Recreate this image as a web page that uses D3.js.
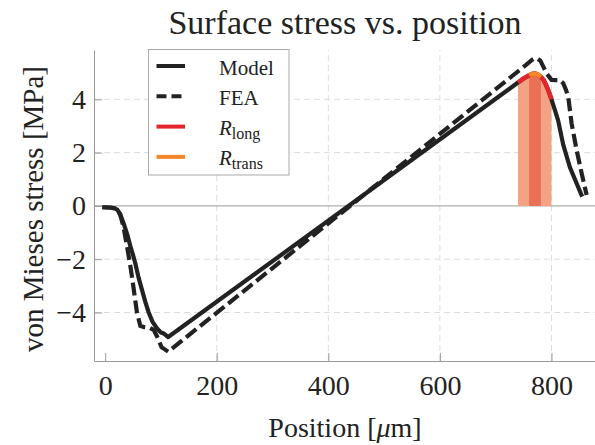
<!DOCTYPE html>
<html>
<head>
<meta charset="utf-8">
<script src="https://cdn.jsdelivr.net/npm/d3@7"></script>
<style>
  html, body { margin: 0; padding: 0; background: #fff; }
  svg { display: block; }
  svg text { font-family: "Liberation Serif", "Times New Roman", serif !important; fill: #222; }
</style>
</head>
<body>
<svg id="chart" width="595" height="445"></svg>
<script>
// ---- data ----
const modelX = [-5, 10, 17, 22, 27, 33, 40, 45, 50, 54, 60, 66, 72, 78, 85, 93, 100, 106, 113, 433, 740, 750, 760, 765, 770, 775, 781, 786, 790, 795, 800, 806, 812, 821, 833, 845, 855];
const modelY = [-0.05, -0.06, -0.09, -0.15, -0.32, -0.65, -1.1, -1.5, -1.85, -2.15, -2.7, -3.15, -3.6, -4.0, -4.35, -4.6, -4.75, -4.8, -4.92, -0.05, 4.63, 4.78, 4.9, 4.95, 4.97, 4.94, 4.84, 4.72, 4.55, 4.3, 4.0, 3.6, 3.2, 2.3, 1.45, 0.85, 0.35];
const feaX = [-5, 10, 17, 22, 27, 33, 39, 44, 48, 53, 57, 63, 70, 80, 87, 93, 101, 113, 433, 755, 765, 770, 775, 780, 786, 791, 800, 808, 815, 821, 826, 830, 836, 845, 854, 863];
const feaY = [-0.05, -0.07, -0.1, -0.17, -0.32, -0.8, -1.5, -2.1, -2.65, -3.4, -4.0, -4.5, -4.55, -4.58, -4.65, -4.9, -5.3, -5.47, -0.1, 5.3, 5.48, 5.54, 5.52, 5.45, 5.2, 4.98, 4.73, 4.72, 4.72, 4.6, 4.35, 4.1, 3.1, 2.1, 1.23, 0.41];
const longRange = [740, 800];
const transRange = [760, 781];
const xTicks = [0, 200, 400, 600, 800];
const xMinorTicks = [0, 50, 100, 150, 200, 250, 300, 350, 400, 450, 500, 550, 600, 650, 700, 750, 800, 850];
const yTicks = [-4, -2, 0, 2, 4];
const yMinorTicks = [-5.5, -5, -4.5, -4, -3.5, -3, -2.5, -2, -1.5, -1, -0.5, 0, 0.5, 1, 1.5, 2, 2.5, 3, 3.5, 4, 4.5, 5, 5.5];
const xGrid = [200, 400, 600, 800];
const yGrid = [-4, -2, 2, 4];
const legendItems = [
  { label: "Model", sub: null, color: "#222", dash: null },
  { label: "FEA", sub: null, color: "#222", dash: "10,5" },
  { label: "R", sub: "long", color: "#e3262b", dash: null },
  { label: "R", sub: "trans", color: "#f5862a", dash: null }
];

// ---- chart ----
const SERIF = '"Liberation Serif", "Times New Roman", serif';
const svg = d3.select("#chart");
const x = d3.scaleLinear().domain([-20, 878]).range([94, 595]);
const y = d3.scaleLinear().domain([-5.82, 5.85]).range([361, 50]);

const model = modelX.map((v, i) => ({ x: v, y: modelY[i] }));
const fea = feaX.map((v, i) => ({ x: v, y: feaY[i] }));

// grid
svg.append("g").selectAll("line").data(xGrid).join("line")
  .attr("x1", d => x(d)).attr("x2", d => x(d))
  .attr("y1", y.range()[0]).attr("y2", y.range()[1])
  .attr("stroke", "#ddd").attr("stroke-width", 1).attr("stroke-dasharray", "6,4");
svg.append("g").selectAll("line").data(yGrid).join("line")
  .attr("x1", x.range()[0]).attr("x2", x.range()[1])
  .attr("y1", d => y(d)).attr("y2", d => y(d))
  .attr("stroke", "#ddd").attr("stroke-width", 1).attr("stroke-dasharray", "6,4");

// zero line
svg.append("line")
  .attr("x1", x.range()[0]).attr("x2", x.range()[1])
  .attr("y1", y(0)).attr("y2", y(0))
  .attr("stroke", "#999").attr("stroke-width", 1);

// shaded bands under model curve
const area = d3.area().x(d => x(d.x)).y0(y(0)).y1(d => y(d.y));
svg.append("path")
  .datum(model.filter(d => d.x >= longRange[0] && d.x <= longRange[1]))
  .attr("d", area).attr("fill", "#f3a384");
svg.append("path")
  .datum(model.filter(d => d.x >= transRange[0] && d.x <= transRange[1]))
  .attr("d", area).attr("fill", "#ea7055");

// lines
const line = d3.line().x(d => x(d.x)).y(d => y(d.y));
svg.append("path").datum(fea).attr("d", line)
  .attr("fill", "none").attr("stroke", "#222").attr("stroke-width", 4.2)
  .attr("stroke-dasharray", "13,5");
svg.append("path").datum(model).attr("d", line)
  .attr("fill", "none").attr("stroke", "#222").attr("stroke-width", 4.2)
  .attr("stroke-linejoin", "round");
svg.append("path")
  .datum(model.filter(d => d.x >= longRange[0] && d.x <= longRange[1]))
  .attr("d", line).attr("fill", "none").attr("stroke", "#e3262b").attr("stroke-width", 4.5);
svg.append("path")
  .datum(model.filter(d => d.x >= transRange[0] && d.x <= transRange[1]))
  .attr("d", line).attr("fill", "none").attr("stroke", "#f5862a").attr("stroke-width", 4.5);

// axes
const fontSize = 28;
const gx = svg.append("g").attr("transform", `translate(0,${y.range()[0]})`);
gx.call(d3.axisBottom(x).tickValues(xMinorTicks).tickSize(-4.5).tickFormat(""));
gx.call(d3.axisBottom(x).tickValues(xTicks).tickSizeInner(-8).tickSizeOuter(0).tickPadding(14));
const gy = svg.append("g").attr("transform", `translate(${x.range()[0]},0)`);
gy.call(d3.axisLeft(y).tickValues(yMinorTicks).tickSize(-4.5).tickFormat(""));
gy.call(d3.axisLeft(y).tickValues(yTicks).tickSizeInner(-8).tickSizeOuter(0).tickPadding(8));
svg.selectAll("g").attr("font-family", null);
svg.selectAll(".domain").attr("stroke", "#999");
svg.selectAll(".tick line").attr("stroke", "#999");
svg.selectAll(".tick text")
  .style("font-family", SERIF)
  .attr("font-size", fontSize).attr("fill", "#222");

// title + axis labels
svg.append("text").attr("x", 345).attr("y", 34).attr("text-anchor", "middle")
  .style("font-family", SERIF).attr("font-size", 34).text("Surface stress vs. position");
const xl = svg.append("text").attr("x", 345).attr("y", 437).attr("text-anchor", "middle")
  .style("font-family", SERIF).attr("font-size", 28);
xl.append("tspan").text("Position [");
xl.append("tspan").attr("font-style", "italic").text("μ");
xl.append("tspan").text("m]");
svg.append("text")
  .attr("transform", "translate(43,209) rotate(-90)")
  .attr("text-anchor", "middle").attr("font-size", 29)
  .style("font-family", SERIF)
  .text("von Mieses stress [MPa]");

// legend
const lg = svg.append("g");
lg.append("rect").attr("x", 148.5).attr("y", 49.5).attr("width", 140.5).attr("height", 125.5)
  .attr("fill", "#fff").attr("stroke", "#aaa").attr("stroke-width", 1);
legendItems.forEach((it, i) => {
  const cy = 66 + i * 30.3;
  lg.append("line").attr("x1", 156.5).attr("x2", 185).attr("y1", cy).attr("y2", cy)
    .attr("stroke", it.color).attr("stroke-width", 4)
    .attr("stroke-dasharray", it.dash);
  const t = lg.append("text").attr("x", 219).attr("y", cy + 8.5).attr("font-size", 21)
    .style("font-family", SERIF);
  if (it.sub) {
    t.append("tspan").attr("font-style", "italic").text(it.label);
    t.append("tspan").attr("font-size", 16).attr("dy", 4).text(it.sub);
  } else {
    t.text(it.label);
  }
});
</script>
</body>
</html>
